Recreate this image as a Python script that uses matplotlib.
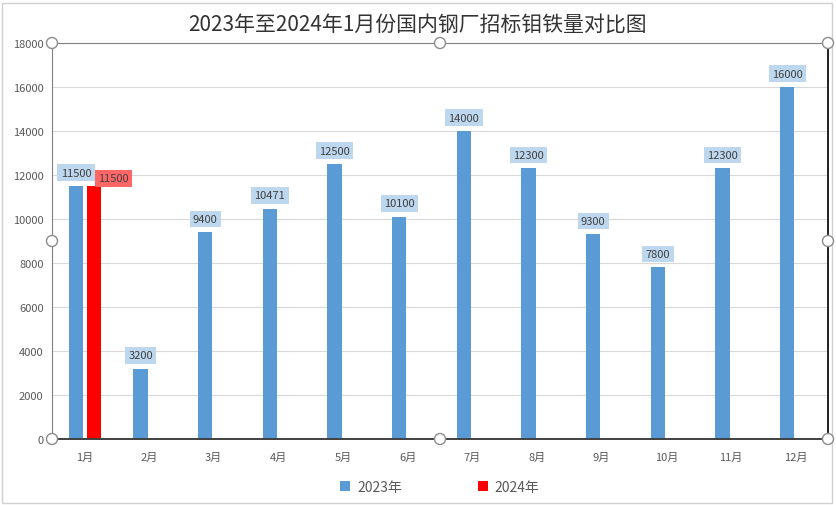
import matplotlib
matplotlib.use('Agg')
import matplotlib.pyplot as plt
from matplotlib.patches import Ellipse, Rectangle
import numpy as np

plt.rcParams['font.family'] = ['Noto Sans CJK SC', 'DejaVu Sans']

months = ['1月', '2月', '3月', '4月', '5月', '6月', '7月', '8月', '9月', '10月', '11月', '12月']
values_2023 = [11500, 3200, 9400, 10471, 12500, 10100, 14000, 12300, 9300, 7800, 12300, 16000]
values_2024 = [11500]

blue = '#5B9BD5'
red = '#FF0000'
text_c = '#595959'

W, H = 836, 506
fig = plt.figure(figsize=(W / 100, H / 100), dpi=100)
ax = fig.add_axes([52 / W, 1 - 440 / H, (828 - 52) / W, (440 - 44) / H])

x = np.arange(len(months)) + 0.5
bw = 0.22
ax.bar(x - 0.13, values_2023, bw, color=blue, label='2023年', zorder=2)
ax.bar(x[:len(values_2024)] + 0.15, values_2024, bw, color=red, label='2024年', zorder=2)

for xi, v in zip(x - 0.13, values_2023):
    ax.annotate(str(v), (xi, v), xytext=(0, 6), textcoords='offset points',
                ha='center', va='bottom', fontsize=8, color='#404040',
                bbox=dict(boxstyle='square,pad=0.3', fc='#BDD7EE', ec='none'), zorder=3)
for xi, v in zip(x[:len(values_2024)] + 0.15, values_2024):
    ax.annotate(str(v), (xi, v), xytext=(14, 2), textcoords='offset points',
                ha='center', va='bottom', fontsize=8, color='#404040',
                bbox=dict(boxstyle='square,pad=0.3', fc='#FF6666', ec='none'), zorder=3)

ax.set_xlim(0, len(months))
ax.set_ylim(0, 18000)
ax.set_yticks(np.arange(0, 18001, 2000))
ax.set_xticks(x)
ax.set_xticklabels(months)
ax.tick_params(axis='both', length=0, labelsize=8, colors=text_c, pad=6)
ax.tick_params(axis='x', pad=9)
ax.grid(axis='y', color='#D9D9D9', linewidth=0.8, zorder=0)
ax.set_axisbelow(True)

ax.spines['left'].set_color('#808080')
ax.spines['top'].set_color('#808080')
ax.spines['right'].set_color('#202020')
ax.spines['right'].set_linewidth(1.4)
ax.spines['bottom'].set_color('#404040')
ax.spines['bottom'].set_linewidth(1.4)

fig.text(418 / W, 1 - 25 / H, '2023年至2024年1月份国内钢厂招标钼铁量对比图',
         ha='center', va='center', fontsize=15, color='#333333')

# legend
leg = ax.legend(loc='center', bbox_to_anchor=(0.5, -0.12), ncol=2, frameon=False,
                fontsize=10, handlelength=0.7, handleheight=0.7, columnspacing=5.5,
                handletextpad=0.5)
for t in leg.get_texts():
    t.set_color(text_c)

# selection handles of the plot area
for px, py in [(52, 44), (440, 44), (828, 44), (52, 242), (828, 242),
               (52, 440), (440, 440), (828, 440)]:
    fig.patches.append(Ellipse((px / W, 1 - py / H), 11 / W, 11 / H, transform=fig.transFigure,
                               fc='white', ec='#8C8C8C', lw=1, zorder=10))

# outer chart frame
fig.patches.append(Rectangle((2 / W, 2 / H), (W - 6) / W, (H - 6) / H,
                             transform=fig.transFigure, fill=False,
                             ec='#D0D0D0', lw=1, zorder=0))

fig.savefig('out.png', dpi=100)
